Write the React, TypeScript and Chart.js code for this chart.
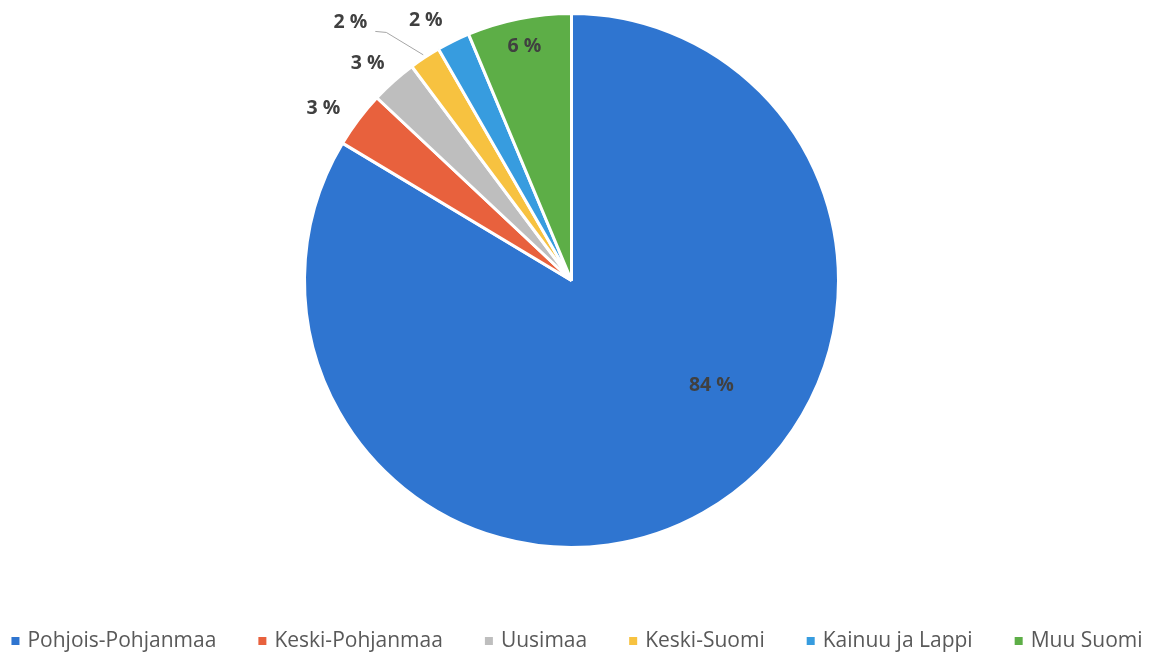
import React, { useEffect, useRef } from "react";
import { Chart, registerables } from "chart.js";

Chart.register(...registerables);

const categories = ["Pohjois-Pohjanmaa", "Keski-Pohjanmaa", "Uusimaa", "Keski-Suomi", "Kainuu ja Lappi", "Muu Suomi"];
const shares = [83.6, 3.4, 2.8, 1.9, 2.0, 6.3];
const colors = ["#2F75D0", "#E8613D", "#BEBEBE", "#F7C240", "#379CDF", "#5DAE47"];

// label placement relative to each slice's middle: [angle offset deg, radius factor]
const labelPlacement: [number, number][] = [
  [-23.6, 0.655],
  [-2.4, 1.13],
  [-1.4, 1.116],
  [-7.3, 1.273],
  [-3.0, 1.116],
  [0, 0.895],
];

const labelPlugin = {
  id: "pieLabels",
  afterDatasetsDraw(chart: any) {
    const ctx = chart.ctx;
    const meta = chart.getDatasetMeta(0);
    ctx.save();
    ctx.font = "bold 19.5px 'Open Sans', sans-serif";
    ctx.fillStyle = "#404040";
    ctx.textAlign = "center";
    ctx.textBaseline = "middle";
    meta.data.forEach((arc: any, i: number) => {
      const { x, y, startAngle, endAngle, outerRadius } = arc.getProps(["x", "y", "startAngle", "endAngle", "outerRadius"], true);
      const mid = (startAngle + endAngle) / 2;
      const [off, f] = labelPlacement[i];
      const a = mid + (off * Math.PI) / 180;
      const lx = x + Math.cos(a) * outerRadius * f;
      const ly = y + Math.sin(a) * outerRadius * f;
      const v = chart.data.datasets[0].data[i];
      ctx.fillText(Math.round(v) + " %", lx, ly);
      if (f > 1.2) {
        const ex = x + Math.cos(mid) * (outerRadius + 3);
        const ey = y + Math.sin(mid) * (outerRadius + 3);
        ctx.strokeStyle = "#A6A6A6";
        ctx.lineWidth = 1;
        ctx.beginPath();
        ctx.moveTo(lx + 25, ly + 9);
        ctx.lineTo(lx + 36, ly + 10);
        ctx.lineTo(ex, ey);
        ctx.stroke();
      }
    });
    ctx.restore();
  },
};

const legendPlugin = {
  id: "bottomLegend",
  afterDraw(chart: any) {
    const ctx = chart.ctx;
    ctx.save();
    ctx.font = "21px 'Open Sans', sans-serif";
    const box = 8, gapBox = 8, gapItem = 42;
    const widths = categories.map((c) => box + gapBox + ctx.measureText(c).width);
    const total = widths.reduce((s, w) => s + w, 0) + gapItem * (categories.length - 1);
    let x = 577 - total / 2;
    const y = 641;
    ctx.textBaseline = "middle";
    ctx.textAlign = "left";
    categories.forEach((c, i) => {
      ctx.fillStyle = colors[i];
      ctx.fillRect(x, y - box / 2, box, box);
      ctx.fillStyle = "#595959";
      ctx.fillText(c, x + box + gapBox, y);
      x += widths[i] + gapItem;
    });
    ctx.restore();
  },
};

export default function App() {
  const ref = useRef<HTMLCanvasElement>(null);
  useEffect(() => {
    document.body.style.margin = "0";
    const chart = new Chart(ref.current!, {
      type: "pie",
      data: {
        labels: categories,
        datasets: [
          {
            data: shares,
            backgroundColor: colors,
            borderColor: "#FFFFFF",
            borderWidth: 3,
          },
        ],
      },
      options: {
        animation: false,
        responsive: false,
        layout: { padding: { top: 12, bottom: 110, left: 0, right: 6 } },
        plugins: { legend: { display: false }, tooltip: { enabled: false } },
      },
      plugins: [labelPlugin, legendPlugin],
    });
    return () => chart.destroy();
  }, []);
  return (
    <div style={{ width: 1149, height: 659, background: "#fff" }}>
      <canvas ref={ref} width={1149} height={659} style={{ display: "block" }} />
    </div>
  );
}
